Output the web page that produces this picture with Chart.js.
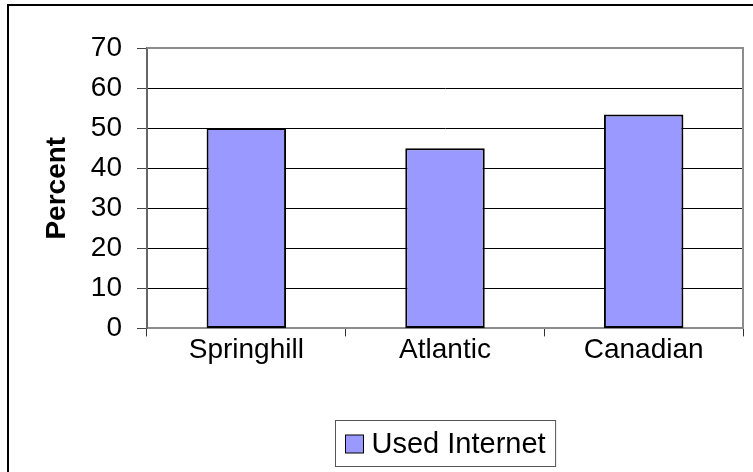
<!DOCTYPE html>
<html>
<head>
<meta charset="utf-8">
<script src="https://cdn.jsdelivr.net/npm/chart.js@4/dist/chart.umd.min.js"></script>
<style>
  html, body { margin: 0; padding: 0; background: #fff; }
  #wrap { width: 753px; height: 472px; position: relative; }
</style>
</head>
<body>
<div id="wrap"><canvas id="internetChart"></canvas></div>
<script>
// survey results
const regions = ['Springhill', 'Atlantic', 'Canadian'];
const usedInternet = [50, 45, 53.4];
const seriesLabel = 'Used Internet';
const axisTitle = 'Percent';
const yMin = 0;
const yMax = 70;
const yStep = 10;

const FONT = '"Liberation Sans", Arial, sans-serif';
const BAR_FILL = '#9999ff';

// outer frame of the chart object (left + top edges)
const framePlugin = {
    id: 'frame',
    beforeDraw(chart) {
        const ctx = chart.ctx;
        ctx.save();
        ctx.strokeStyle = '#000';
        ctx.lineWidth = 2;
        ctx.beginPath();
        ctx.moveTo(8, chart.height);
        ctx.lineTo(8, 5);
        ctx.lineTo(chart.width, 5);
        ctx.stroke();
        ctx.restore();
    },
    beforeDatasetsDraw(chart) {
        // plot area outline on top/right
        const a = chart.chartArea;
        const ctx = chart.ctx;
        ctx.save();
        ctx.strokeStyle = '#8c8c8c';
        ctx.lineWidth = 2;
        ctx.beginPath();
        ctx.moveTo(a.left, a.top);
        ctx.lineTo(a.right, a.top);
        ctx.lineTo(a.right, a.bottom);
        ctx.stroke();
        ctx.restore();
    }
};

// boxed legend centred under the plot area
const boxLegendPlugin = {
    id: 'boxLegend',
    afterDraw(chart) {
        const ctx = chart.ctx;
        const ds = chart.data.datasets[0];
        const a = chart.chartArea;
        ctx.save();
        ctx.font = '29px ' + FONT;
        const textW = ctx.measureText(ds.label).width;
        const sw = 18;
        const w = 10 + sw + 8 + textW + 10;
        const h = 46;
        const left = Math.round((a.left + a.right) / 2 - w / 2) + 0.5;
        const top = chart.height - 52 + 0.5;
        ctx.strokeStyle = '#555';
        ctx.lineWidth = 1;
        ctx.strokeRect(left, top, w, h);
        const cy = top + h / 2;
        ctx.fillStyle = ds.backgroundColor;
        ctx.fillRect(left + 10, Math.round(cy - sw / 2), sw, sw);
        ctx.strokeStyle = '#000';
        ctx.strokeRect(left + 10, Math.round(cy - sw / 2), sw, sw);
        ctx.fillStyle = '#000';
        ctx.textBaseline = 'middle';
        ctx.textAlign = 'left';
        ctx.fillText(ds.label, left + 10 + sw + 8, cy + 1);
        ctx.restore();
    }
};

new Chart(document.getElementById('internetChart'), {
    type: 'bar',
    data: {
        labels: regions,
        datasets: [{
            label: seriesLabel,
            data: usedInternet,
            backgroundColor: BAR_FILL,
            borderColor: '#000',
            borderWidth: 2,
            borderSkipped: false,
            categoryPercentage: 0.8,
            barPercentage: 0.5
        }]
    },
    options: {
        responsive: true,
        maintainAspectRatio: false,
        animation: false,
        devicePixelRatio: 1,
        layout: { padding: { left: 40, top: 48, right: 10, bottom: 108 } },
        plugins: {
            legend: { display: false },
            tooltip: { enabled: false }
        },
        scales: {
            x: {
                grid: {
                    offset: true,
                    drawOnChartArea: false,
                    drawTicks: true,
                    tickLength: 8,
                    tickColor: '#333',
                    tickWidth: 1
                },
                border: { color: '#8c8c8c', width: 2 },
                ticks: {
                    color: '#000',
                    padding: -3,
                    font: { family: FONT, size: 28 }
                }
            },
            y: {
                min: yMin,
                max: yMax,
                afterFit(scale) { scale.width = 107; },
                grid: {
                    color: c => (c.tick && (c.tick.value === yMax || c.tick.value === yMin)) ? '#8c8c8c' : '#000',
                    lineWidth: 1,
                    tickLength: 10,
                    tickColor: '#444'
                },
                border: { color: '#666', width: 2 },
                ticks: {
                    stepSize: yStep,
                    color: '#000',
                    padding: 15,
                    font: { family: FONT, size: 28 }
                },
                title: {
                    display: true,
                    text: axisTitle,
                    color: '#000',
                    padding: { top: 0, bottom: 17 },
                    font: { family: FONT, size: 28, weight: 'bold' }
                }
            }
        }
    },
    plugins: [framePlugin, boxLegendPlugin]
});
</script>
</body>
</html>
